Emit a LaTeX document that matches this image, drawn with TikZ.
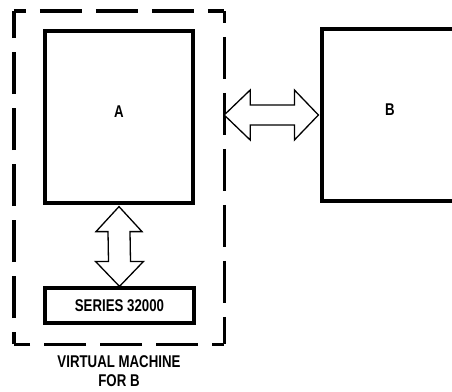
\documentclass[tikz,border=0pt]{standalone}
\usepackage{fontspec}
\setmainfont{Liberation Sans}[FakeStretch=0.78]
\usetikzlibrary{calc}
\begin{document}
\begin{tikzpicture}[x=1pt,y=-1pt,
  box/.style={draw,line width=3.2pt,rectangle,inner sep=0pt},
  lbl/.style={font=\fontsize{17}{19}\selectfont\bfseries},
  frame/.style={line width=3.4pt,dash pattern=on 42pt off 14pt,dash phase=30pt},
  bigarrow/.style={draw,line width=1.3pt,fill=white,line join=miter}]
\useasboundingbox (0,0) rectangle (452,391);
% dashed frame (virtual machine)
\node[inner sep=0pt,minimum width=210pt,minimum height=333pt] (V) at (119,177.5) {};
\draw[frame] (V.north west) -- (V.north east);
\draw[frame] (V.north east) -- (V.south east);
\draw[frame] (V.south east) -- (V.south west);
\draw[frame] (V.south west) -- (V.north west);
% boxes
\node[box,lbl,minimum width=148pt,minimum height=172pt,text depth=10pt] (A) at (119,117) {A};
\node[box,lbl,minimum width=136pt,minimum height=172pt,text depth=10pt] (B) at (390,115) {B};
\node[box,lbl,minimum width=149pt,minimum height=35pt] (S) at (119.5,305.5) {SERIES 32000};
\node[lbl,align=center,anchor=base,inner sep=0pt] (cap) at ($(V.south)+(0,42.5)$) {VIRTUAL MACHINE\\FOR B};
% horizontal double arrow
\coordinate (L) at (V.east |- B.west);
\coordinate (R) at ($(B.west)+(-2,0)$);
\draw[bigarrow] (L) -- ($(L)+(26,-25)$) -- ($(L)+(26,-10)$) -- ($(R)+(-24,-10)$)
  -- ($(R)+(-24,-25)$) -- (R) -- ($(R)+(-24,25)$) -- ($(R)+(-24,10)$)
  -- ($(L)+(26,10)$) -- ($(L)+(26,25)$) -- cycle;
% vertical double arrow
\coordinate (T) at ($(A.south)+(0,2)$);
\coordinate (D) at (S.north);
\draw[bigarrow] (T) -- ($(T)+(23,25)$) -- ($(T)+(11,25)$) -- ($(D)+(11,-25)$)
  -- ($(D)+(24,-25)$) -- (D) -- ($(D)+(-24,-25)$) -- ($(D)+(-11,-25)$)
  -- ($(T)+(-11,25)$) -- ($(T)+(-23,25)$) -- cycle;
\end{tikzpicture}
\end{document}
